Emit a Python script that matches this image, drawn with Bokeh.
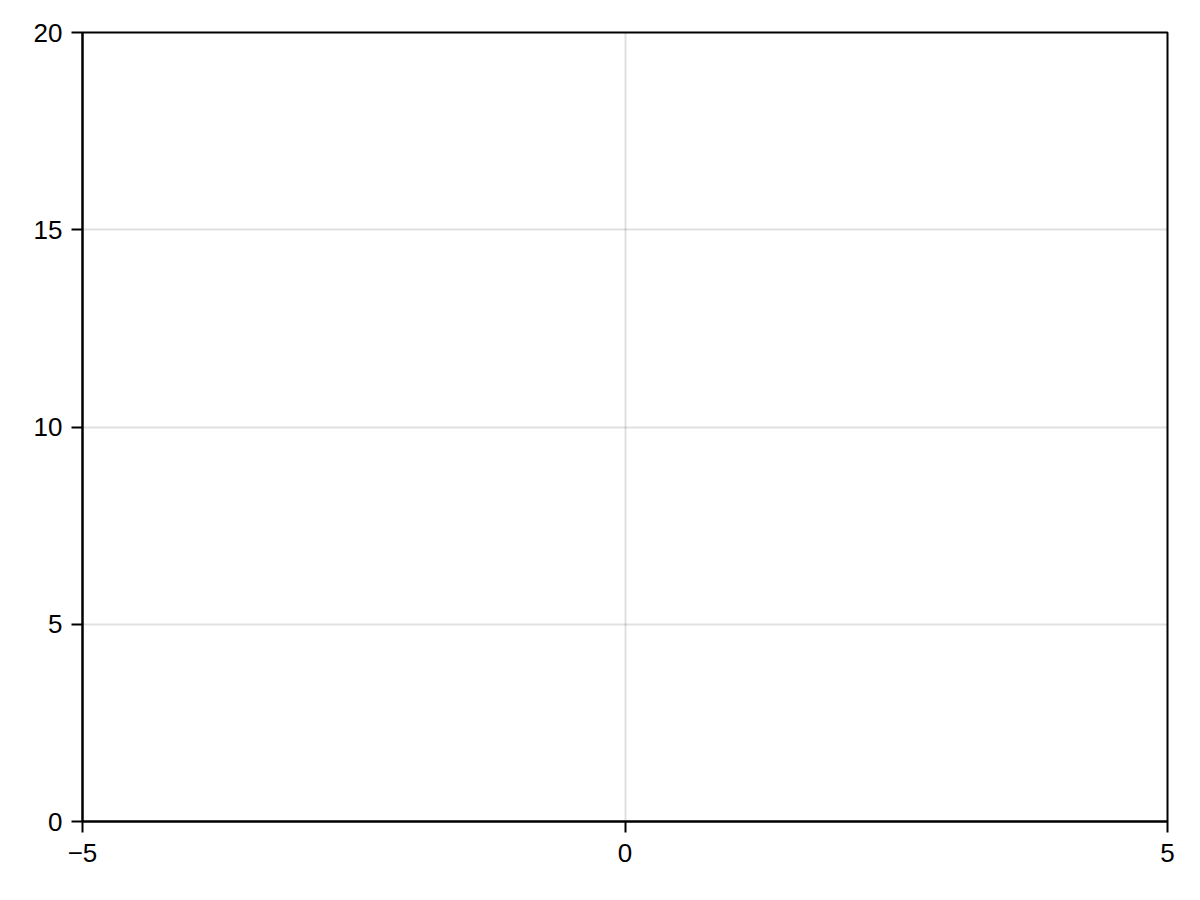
from bokeh.plotting import figure
from bokeh.models import Range1d, FixedTicker
from bokeh.embed import file_html
from bokeh.resources import INLINE

# axis limits and ticks (the axes hold no data)
x_limits = [-5, 5]
y_limits = [0, 20]
x_ticks = [-5, 0, 5]
y_ticks = [0, 5, 10, 15, 20]
x_tick_labels = {-5: "\u22125", 0: "0", 5: "5"}

font = "Liberation Sans"

p = figure(width=1184, height=884, output_backend="svg", toolbar_location=None,
           x_range=Range1d(*x_limits), y_range=Range1d(*y_limits))
p.min_border_left = 82
p.min_border_right = 17
p.min_border_top = 32
p.min_border_bottom = 63

p.outline_line_color = "black"
p.outline_line_width = 2
p.outline_line_alpha = 1.0

p.xaxis.ticker = FixedTicker(ticks=x_ticks)
p.yaxis.ticker = FixedTicker(ticks=y_ticks)
p.xaxis.major_label_overrides = x_tick_labels

for ax in (p.xaxis, p.yaxis):
    ax.axis_line_color = "black"
    ax.axis_line_width = 2
    ax.major_tick_line_color = "black"
    ax.major_tick_line_width = 2
    ax.major_tick_in = 0
    ax.major_tick_out = 11
    ax.minor_tick_line_color = None
    ax.major_label_text_font = font
    ax.major_label_text_font_size = "26px"
    ax.major_label_text_color = "black"

p.xaxis.major_label_standoff = 11
p.yaxis.major_label_standoff = 9

for g in (p.xgrid, p.ygrid):
    g.grid_line_color = "black"
    g.grid_line_alpha = 0.12
    g.grid_line_width = 2

open("out.html", "w").write(file_html(p, INLINE))
